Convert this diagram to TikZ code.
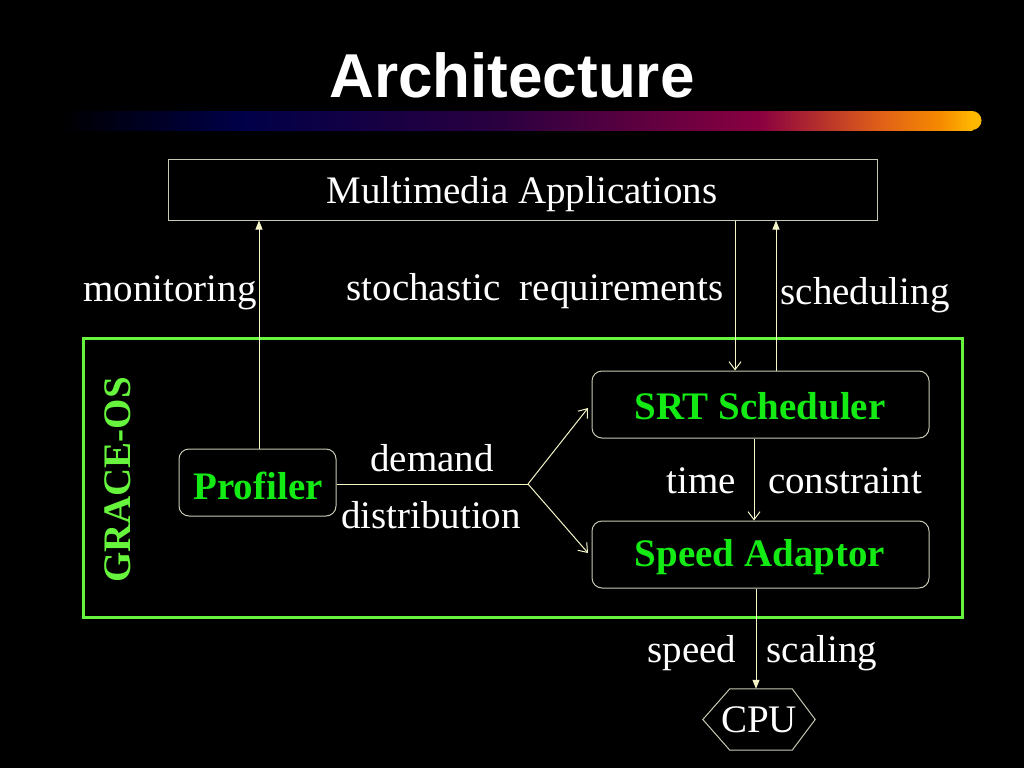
\documentclass[tikz,border=0pt]{standalone}
\usepackage{fontspec}
\setmainfont{Liberation Serif}
\newfontfamily\titlefont{Liberation Sans}
\usetikzlibrary{arrows.meta}
\definecolor{lineyel}{RGB}{245,245,200}
\definecolor{boxgray}{RGB}{200,200,180}
\definecolor{frgreen}{RGB}{102,245,60}
\definecolor{txgreen}{RGB}{20,235,20}
\definecolor{g0}{RGB}{0,0,0}
\definecolor{g1}{RGB}{0,0,72}
\definecolor{g2}{RGB}{42,0,64}
\definecolor{g3}{RGB}{138,0,64}
\definecolor{g4}{RGB}{224,96,24}
\definecolor{g5}{RGB}{245,138,0}
\definecolor{g6}{RGB}{255,184,0}
\tikzset{
  txt/.style={font=\fontsize{39}{44}\selectfont, text=white, inner sep=0pt},
  boxtxt/.style={font=\fontsize{39}{44}\selectfont\bfseries, text=txgreen},
  rbox/.style={draw=boxgray, line width=1pt, rounded corners=10pt, inner sep=0pt},
  conn/.style={draw=lineyel, line width=1pt},
  fillarr/.style={conn, -{Triangle[width=7pt,length=9pt]}},
  openarr/.style={conn, -{Straight Barb[width=12pt,length=8pt]}}
}
\begin{document}
\begin{tikzpicture}[x=1pt,y=-1pt]
\fill[black] (0,0) rectangle (1024,768);
\useasboundingbox (0,0) rectangle (1024,768);
% title
\node[font=\titlefont\fontsize{62}{70}\selectfont\bfseries, text=white] (title) at (512,75) {Architecture};
% gradient bar
\shade[left color=g0,right color=g1] (60,111) rectangle (240.5,130);
\shade[left color=g1,right color=g2] (240,111) rectangle (500.5,130);
\shade[left color=g2,right color=g3] (500,111) rectangle (760.5,130);
\shade[left color=g3,right color=g4] (760,111) rectangle (880.5,130);
\shade[left color=g4,right color=g5] (880,111) rectangle (940.5,130);
\shade[left color=g5,right color=g6] (940,111) rectangle (972.5,130);
\fill[g6] (972,111) arc[start angle=-90,end angle=90,radius=9.5] -- cycle;
% top box
\node[draw=boxgray, line width=1pt, minimum width=709, minimum height=61, inner sep=0pt] (apps) at (522.5,189.5) {};
\node[txt] (appstxt) at (522,194) {Multimedia Applications};
% green frame
\node[draw=frgreen, line width=3pt, minimum width=879, minimum height=279, inner sep=0pt] (grace) at (522.5,477.5) {};
\node[font=\fontsize{39}{44}\selectfont\bfseries, text=frgreen, rotate=90] (gracetxt) at (118,480) {GRACE-OS};
% boxes
\node[rbox, minimum width=157, minimum height=67] (prof) at (257.5,482.5) {};
\node[boxtxt] at (258,486) {Profiler};
\node[rbox, minimum width=337, minimum height=67] (srt) at (760.5,404.5) {};
\node[boxtxt] at (760,406) {SRT Scheduler};
\node[rbox, minimum width=337, minimum height=67] (spd) at (760.5,554.5) {};
\node[boxtxt] at (760,557) {Speed Adaptor};
% CPU hexagon
\node[minimum width=112, minimum height=61, inner sep=0pt, txt] (cpu) at (759,719.5) {CPU};
\draw[boxgray, line width=1pt] (cpu.west) -- ([xshift=27]cpu.north west) -- ([xshift=-23]cpu.north east) -- (cpu.east) -- ([xshift=-23]cpu.south east) -- ([xshift=27]cpu.south west) -- cycle;
% connectors
\draw[fillarr] (prof.north -| 259,0) -- (apps.south -| 259,0);
\draw[openarr] (apps.south -| 735,0) -- (srt.north -| 735,0);
\draw[fillarr] (srt.north -| 776,0) -- (apps.south -| 776,0);
\coordinate (junc) at (528,484);
\draw[conn] (prof.east |- junc) -- (junc);
\draw[openarr] (junc) -- (588,408);
\draw[openarr] (junc) -- (588,553);
\draw[openarr] (srt.south -| 754,0) -- (spd.north -| 754,0);
\draw[fillarr] (spd.south -| 756,0) -- (cpu.north -| 756,0);
% labels
\node[txt] (lmon) at (170,293) {monitoring};
\node[txt] (lreq) at (535,291) {stochastic\ \ requirements};
\node[txt] (lsch) at (865,295) {scheduling};
\node[txt] (ldem) at (432,458) {demand};
\node[txt] (ldis) at (431,515) {distribution};
\node[txt] (ltime) at (701,481) {time};
\node[txt] (lcon) at (845,481) {constraint};
\node[txt] (lspeed) at (692,653) {speed};
\node[txt] (lscal) at (822,653) {scaling};
\end{tikzpicture}
\end{document}
